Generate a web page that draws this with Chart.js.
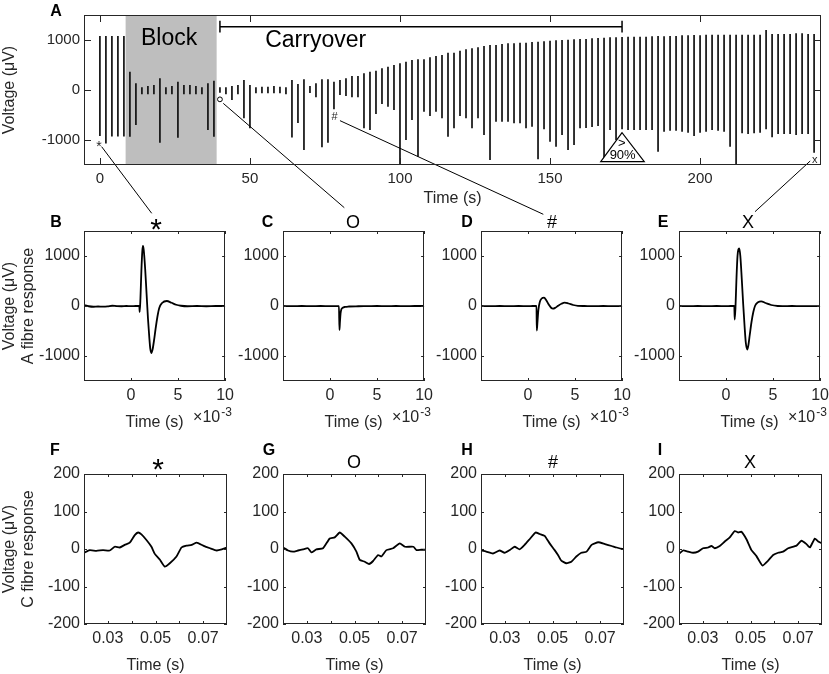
<!DOCTYPE html>
<html>
<head>
<meta charset="utf-8">
<script src="https://cdn.jsdelivr.net/npm/chart.js@4.4.1/dist/chart.umd.min.js"></script>
<style>
  html, body { margin: 0; padding: 0; background: #fff; }
  #fig { position: relative; width: 829px; height: 674px; overflow: hidden;
         font-family: "Liberation Sans", Arial, sans-serif; color: #000; }
  #fig canvas { position: absolute; }
  .lbl { position: absolute; line-height: 1; white-space: nowrap; transform: translate(-50%, -50%); }
  .letter { font-weight: bold; font-size: 16px; }
  .ttl { font-size: 18px; }
</style>
</head>
<body>
<div id="fig"></div>
<script>
// ---- panel A: one stimulus every 2 s, min and max of each evoked response (uV)
const spikeTimes = [
  0, 2, 4, 6, 8, 10, 12, 14, 16, 18, 20, 22, 24, 26, 28, 30, 32, 34, 36, 38,
  40, 42, 44, 46, 48, 50, 52, 54, 56, 58, 60, 62, 64, 66, 68, 70, 72, 74, 76, 78,
  80, 82, 84, 86, 88, 90, 92, 94, 96, 98, 100, 102, 104, 106, 108, 110, 112, 114, 116, 118,
  120, 122, 124, 126, 128, 130, 132, 134, 136, 138, 140, 142, 144, 146, 148, 150, 152, 154, 156, 158,
  160, 162, 164, 166, 168, 170, 172, 174, 176, 178, 180, 182, 184, 186, 188, 190, 192, 194, 196, 198,
  200, 202, 204, 206, 208, 210, 212, 214, 216, 218, 220, 222, 224, 226, 228, 230, 232, 234, 236, 238
];
const spikeHigh = [
  1080, 1080, 1080, 1080, 1080, 367, 133, 53, 80, 100, 233, 53, 80, 167, 100, 100, 80, 53, 133, 187,
  53, 53, 80, 100, 200, 100, 53, 67, 67, 80, 67, 53, 200, 120, 213, 80, 133, 213, 213, 167,
  200, 233, 280, 280, 333, 367, 387, 433, 467, 500, 533, 567, 600, 613, 613, 653, 680, 700, 747, 747,
  787, 813, 833, 853, 880, 900, 900, 920, 933, 933, 947, 947, 960, 967, 973, 987, 993, 1000, 1007, 1013,
  1020, 1020, 1033, 1040, 1047, 1053, 1053, 1060, 1067, 1067, 1067, 1067, 1073, 1080, 1073, 1080, 1080, 1093, 1093, 1100,
  1093, 1107, 1107, 1107, 1107, 1107, 1107, 1107, 1107, 1107, 1107, 1200, 1120, 1120, 1120, 1120, 1133, 1133, 1120, 1120
];
const spikeLow = [
  -920, -1070, -930, -930, -930, -933, -700, -87, -87, -87, -1053, -87, -87, -953, -87, -87, -87, -87, -800, -933,
  -53, -87, -200, -87, -567, -767, -67, -67, -67, -67, -67, -87, -950, -660, -1200, -60, -147, -1147, -1053, -387,
  -100, -120, -147, -147, -767, -800, -480, -280, -333, -400, -1500, -1000, -600, -1333, -433, -520, -433, -567, -933, -767,
  -520, -567, -767, -567, -900, -1400, -633, -633, -633, -667, -667, -767, -733, -1387, -787, -1033, -1133, -900, -1200, -1100,
  -767, -760, -740, -720, -1400, -800, -1000, -787, -800, -800, -800, -800, -800, -1233, -833, -813, -813, -833, -853, -920,
  -853, -833, -800, -813, -833, -1133, -1500, -867, -880, -867, -853, -787, -947, -880, -880, -880, -900, -880, -880, -1253
];
const aTimeTicks = [0, 50, 100, 150, 200];
const aTimeLabels = ['0', '50', '100', '150', '200'];
const voltTicks = [-1000, 0, 1000];
const voltLabels = ['-1000', '0', '1000'];

// ---- panels B-E: A fibre responses (time in ms x 10^-3 s, voltage in uV)
const msTicks = [0, 5, 10];
const msLabels = ['0', '5', '10'];
const bTime = [-5, -4.5, -4, -3.5, -3, -2.5, -2, -1.5, -1, -0.5, 0, 0.5, 0.88, 0.92, 1.0, 1.1, 1.2, 1.27, 1.35, 1.5,
  1.65, 1.8, 1.95, 2.05, 2.16, 2.3, 2.45, 2.6, 2.8, 3.0, 3.3, 3.8, 4.3, 4.8, 5.3, 6, 7, 8, 9, 10];
const bVolt = [20, -5, -15, -10, -12, -8, 5, -3, -5, 0, -2, 0, 0, -120, 150, 700, 1100, 1200, 1120, 750,
  250, -250, -650, -860, -940, -860, -680, -470, -220, -40, 60, 100, 65, 25, 5, -5, 0, -5, 0, 0];
const cTime = [-5, -4, -3, -2, -1, 0, 0.5, 0.95, 1.0, 1.05, 1.12, 1.2, 1.35, 1.6, 2, 3, 4, 5, 6, 7, 8, 9, 10];
const cVolt = [0, -3, 0, -2, 0, -3, -2, -3, -480, -330, -150, -70, -35, -18, -10, -5, -3, 0, -2, 0, -2, 0, 0];
const dTime = [-5, -4, -3, -2, -1, 0, 0.5, 0.9, 0.93, 1.0, 1.1, 1.25, 1.45, 1.7, 1.95, 2.2, 2.45, 2.65, 2.9, 3.2,
  3.55, 3.9, 4.3, 4.8, 5.3, 6, 7, 8, 9, 10];
const dVolt = [0, -2, 0, -3, 0, -2, 0, 0, -490, -330, -80, 80, 150, 168, 110, 30, -35, -53, -35, 5,
  45, 67, 50, 20, 3, 0, -2, 0, -2, 0];
const eTime = [-5, -4, -3, -2, -1, 0, 0.5, 0.88, 0.92, 1.0, 1.1, 1.22, 1.4, 1.52, 1.67, 1.82, 1.97, 2.1, 2.25, 2.38,
  2.52, 2.7, 2.9, 3.1, 3.4, 3.73, 4.2, 4.8, 5.5, 6, 7, 8, 9, 10];
const eVolt = [0, -3, 0, -2, 0, -3, 0, 0, -270, -50, 500, 1000, 1150, 1000, 550, 50, -400, -730, -870, -780,
  -580, -330, -120, 10, 75, 93, 60, 20, 0, -3, 0, -3, -2, -3];

// ---- panels F-I: C fibre responses (time in s, voltage in uV)
const secTicks = [0.03, 0.04, 0.05, 0.06, 0.07];
const secLabels = ['0.03', '', '0.05', '', '0.07'];
const cVoltTicks = [-200, -100, 0, 100, 200];
const cVoltLabels = ['-200', '-100', '0', '100', '200'];
const fTime = [0.02, 0.0224, 0.0252, 0.028, 0.0308, 0.0329, 0.035, 0.0371, 0.0392, 0.0413, 0.0427, 0.0441, 0.0462, 0.0483,
  0.0497, 0.0518, 0.0539, 0.056, 0.0588, 0.0609, 0.063, 0.0652, 0.0673, 0.07, 0.0729, 0.0757, 0.0778, 0.08];
const fVolt = [-10, -3, -5, -3, -4, 6, 4, 11, 17, 37, 44, 39, 24, 6, -13, -28, -47, -38, -20, 4, 9, 11, 17, 9, 2, -4, -1, 4];
const gTime = [0.02, 0.0221, 0.0242, 0.0263, 0.0284, 0.0305, 0.0319, 0.034, 0.0368, 0.0396, 0.0417, 0.0438, 0.0459, 0.0487,
  0.0508, 0.0522, 0.0543, 0.0561, 0.0578, 0.0599, 0.0613, 0.0634, 0.0662, 0.069, 0.0712, 0.0747, 0.076, 0.078, 0.08];
const gVolt = [4, -4, -7, -4, -1, 2, -9, -1, 2, 28, 31, 44, 33, 15, -7, -29, -34, -40, -32, -16, -20, -3, 2, 15, 6, 6, -3, -2, -2];
const hTime = [0.02, 0.0222, 0.025, 0.0278, 0.0299, 0.032, 0.0341, 0.0362, 0.0383, 0.0404, 0.0429, 0.0446, 0.0467, 0.0488,
  0.0509, 0.0523, 0.0537, 0.0558, 0.0579, 0.06, 0.0621, 0.0643, 0.0664, 0.0692, 0.072, 0.0748, 0.0769, 0.0794, 0.08];
const hVolt = [-4, -7, -12, -4, -10, -3, 6, -1, 11, 26, 44, 40, 35, 15, -3, -16, -31, -38, -34, -20, -10, -7, 11, 18, 13, 8, 4, 0, 0];
const iTime = [0.02, 0.0217, 0.0238, 0.0259, 0.028, 0.0301, 0.0322, 0.0336, 0.035, 0.0371, 0.0392, 0.0413, 0.0434, 0.0448,
  0.0462, 0.0483, 0.0504, 0.0525, 0.055, 0.0574, 0.0595, 0.0616, 0.0637, 0.0658, 0.0693, 0.0714, 0.0735, 0.0749, 0.077, 0.0784, 0.08];
const iVolt = [-13, -4, -7, -10, -7, 2, 4, 8, 2, 8, 20, 31, 48, 44, 46, 26, -3, -19, -44, -31, -16, -10, -7, 2, 9, 22, 13, 4, 28, 20, 15];

// annotation spots in panel A (data units)
const blockSpan = [8.57, 38.9];
const carrySpan = [40, 174];
const carryLevel = 1267;
const markStar = [-0.3, -1080], markCircle = [40, -187], markHash = [78.2, -533], markX = [238.2, -1390];
const tri = { apex: [174, -853], left: [166.9, -1433], right: [181.4, -1433] };
// connector lines: start in panel A data units, end in page pixels (just under the panel titles)
const links = [
  { from: [0.57, -1133], to: [151.7, 213.3] },
  { from: [41.1, -267], to: [344.3, 207.7] },
  { from: [80, -613], to: [543.3, 214.3] },
  { from: [236.7, -1420], to: [755, 211.7] }
];

const FONT = '"Liberation Sans", Arial, sans-serif';
const INK = '#262626';
const fig = document.getElementById('fig');

function addCanvas(left, top, w, h) {
  const cv = document.createElement('canvas');
  cv.width = w; cv.height = h;
  cv.style.left = left + 'px'; cv.style.top = top + 'px';
  cv.style.width = w + 'px'; cv.style.height = h + 'px';
  fig.appendChild(cv);
  return cv;
}

function addLabel(text, x, y, cls, extra) {
  const d = document.createElement('div');
  d.className = 'lbl ' + cls;
  d.textContent = text;
  d.style.left = x + 'px'; d.style.top = y + 'px';
  if (extra) Object.assign(d.style, extra);
  fig.appendChild(d);
}

// MATLAB-like box with inward ticks on all four sides
const boxTicks = {
  id: 'boxTicks',
  afterDraw(chart, args, opts) {
    const { ctx, chartArea: a, scales: { x, y } } = chart;
    const L = opts.len || 3;
    ctx.save();
    ctx.strokeStyle = INK;
    ctx.lineWidth = 1;
    ctx.beginPath();
    x.ticks.forEach(t => {
      const px = Math.round(x.getPixelForValue(t.value)) + 0.5;
      ctx.moveTo(px, a.bottom); ctx.lineTo(px, a.bottom - L);
      ctx.moveTo(px, a.top); ctx.lineTo(px, a.top + L);
    });
    y.ticks.forEach(t => {
      const py = Math.round(y.getPixelForValue(t.value)) + 0.5;
      ctx.moveTo(a.left, py); ctx.lineTo(a.left + L, py);
      ctx.moveTo(a.right, py); ctx.lineTo(a.right - L, py);
    });
    ctx.stroke();
    ctx.strokeRect(Math.round(a.left) + 0.5, Math.round(a.top) + 0.5,
      Math.round(a.right - a.left) - 1, Math.round(a.bottom - a.top) - 1);
    ctx.restore();
  }
};

// "x10^-3" exponent under the right end of the ms axes
const timesTen = {
  id: 'timesTen',
  afterDraw(chart, args, opts) {
    if (!opts.show) return;
    const { ctx, chartArea: a } = chart;
    ctx.save();
    ctx.fillStyle = INK;
    ctx.textBaseline = 'alphabetic';
    ctx.font = '16px ' + FONT;
    const x0 = a.right - 32;
    ctx.fillText('\u00d710', x0, a.bottom + 41);
    const w = ctx.measureText('\u00d710').width;
    ctx.font = '12px ' + FONT;
    ctx.fillText('-3', x0 + w + 1, a.bottom + 35);
    ctx.restore();
  }
};

const carryAnnot = {
  id: 'carryAnnot',
  beforeDatasetsDraw(chart) {
    const { ctx, chartArea: a, scales: { x } } = chart;
    const x0 = x.getPixelForValue(blockSpan[0]), x1 = x.getPixelForValue(blockSpan[1]);
    ctx.save();
    ctx.fillStyle = '#bebebe';
    ctx.fillRect(x0, a.top, x1 - x0, a.bottom - a.top);
    ctx.restore();
  },
  afterDatasetsDraw(chart) {
    const { ctx, scales: { x, y } } = chart;
    const P = (t, v) => [x.getPixelForValue(t), y.getPixelForValue(v)];
    ctx.save();
    ctx.fillStyle = '#000';
    ctx.strokeStyle = '#000';
    ctx.textAlign = 'center';
    ctx.textBaseline = 'middle';
    ctx.font = '23px ' + FONT;
    let p = P(23.05, 1025);
    ctx.fillText('Block', p[0], p[1]);
    p = P(71.9, 985);
    ctx.fillText('Carryover', p[0], p[1]);

    // carryover bracket
    const b0 = P(carrySpan[0], carryLevel), b1 = P(carrySpan[1], carryLevel);
    const capUp = y.getPixelForValue(carryLevel + 117), capDn = y.getPixelForValue(carryLevel - 117);
    ctx.lineWidth = 1.5;
    ctx.beginPath();
    ctx.moveTo(b0[0], b0[1]); ctx.lineTo(b1[0], b1[1]);
    ctx.moveTo(b0[0], capUp); ctx.lineTo(b0[0], capDn);
    ctx.moveTo(b1[0], capUp); ctx.lineTo(b1[0], capDn);
    ctx.stroke();

    // markers
    ctx.fillStyle = INK;
    ctx.font = '14px ' + FONT;
    p = P(markStar[0], markStar[1]);
    ctx.fillText('*', p[0], p[1] + 3);
    ctx.font = '11px ' + FONT;
    p = P(markHash[0], markHash[1]);
    ctx.fillText('#', p[0], p[1]);
    p = P(markX[0], markX[1]);
    ctx.fillText('x', p[0], p[1]);
    p = P(markCircle[0], markCircle[1]);
    ctx.lineWidth = 1;
    ctx.beginPath();
    ctx.arc(p[0], p[1], 2.4, 0, Math.PI * 2);
    ctx.stroke();

    // >90% triangle
    const ta = P(tri.apex[0], tri.apex[1]), tl = P(tri.left[0], tri.left[1]), tr = P(tri.right[0], tri.right[1]);
    ctx.beginPath();
    ctx.moveTo(ta[0], ta[1]); ctx.lineTo(tl[0], tl[1]); ctx.lineTo(tr[0], tr[1]); ctx.closePath();
    ctx.fillStyle = '#fff';
    ctx.fill();
    ctx.strokeStyle = '#000';
    ctx.lineWidth = 1.2;
    ctx.stroke();
    ctx.fillStyle = '#000';
    ctx.font = '13px ' + FONT;
    p = P(173.9, -1067);
    ctx.fillText('>', p[0], p[1]);
    p = P(174.2, -1300);
    ctx.fillText('90%', p[0], p[1]);
    ctx.restore();
  },
  afterDraw(chart) {
    const { ctx, scales: { x, y } } = chart;
    const top = chart.canvas.offsetTop, left = chart.canvas.offsetLeft;
    ctx.save();
    ctx.strokeStyle = '#000';
    ctx.lineWidth = 1;
    ctx.beginPath();
    links.forEach(l => {
      ctx.moveTo(x.getPixelForValue(l.from[0]), y.getPixelForValue(l.from[1]));
      ctx.lineTo(l.to[0] - left, l.to[1] - top);
    });
    ctx.stroke();
    ctx.restore();
  }
};

// ---------- panel A
const cvA = addCanvas(0, 0, 829, 220);
new Chart(cvA, {
  type: 'bar',
  data: {
    datasets: [{
      data: spikeTimes.map((t, i) => ({ x: t, y: [spikeLow[i], spikeHigh[i]] })),
      backgroundColor: '#111',
      borderWidth: 0,
      inflateAmount: 0,
      barThickness: 1.7
    }]
  },
  options: {
    responsive: false, animation: false, events: [],
    layout: { padding: { left: 0, top: 15, right: 8, bottom: 12 } },
    plugins: { legend: { display: false }, tooltip: { enabled: false }, boxTicks: { len: 7 } },
    scales: {
      x: {
        type: 'linear', min: -5.3, max: 240.3, offset: false,
        grid: { display: false, drawTicks: false }, border: { display: false },
        ticks: { font: { family: FONT, size: 15 }, color: INK, padding: 5, maxRotation: 0, autoSkip: false,
          callback: (v, i) => aTimeLabels[i] },
        afterBuildTicks: s => { s.ticks = aTimeTicks.map(v => ({ value: v })); },
        afterFit: s => { s.height = 43; },
        title: { display: true, text: 'Time (s)', font: { family: FONT, size: 16 }, color: INK, padding: 0 }
      },
      y: {
        min: -1500, max: 1500,
        grid: { display: false, drawTicks: false }, border: { display: false },
        ticks: { font: { family: FONT, size: 15 }, color: INK, padding: 4, autoSkip: false,
          callback: (v, i) => voltLabels[i] },
        afterBuildTicks: s => { s.ticks = voltTicks.map(v => ({ value: v })); },
        afterFit: s => { s.width = 84; },
        title: { display: true, text: 'Voltage (\u03bcV)', font: { family: FONT, size: 16 }, color: INK, padding: 0 }
      }
    }
  },
  plugins: [carryAnnot, boxTicks]
});

// ---------- small panels
const BOX_W = 143, BOX_H = 150, TOP_PAD = 31, X_H = 51, RIGHT_PAD = 12;
const colLefts = [84, 283, 481, 679];

function panel(p) {
  const yw = p.yTitle ? 84 : 62;
  const cv = addCanvas(p.left - yw, p.top - TOP_PAD, yw + BOX_W + RIGHT_PAD, TOP_PAD + BOX_H + X_H);
  new Chart(cv, {
    type: 'line',
    data: {
      datasets: [{
        data: p.xs.map((v, i) => ({ x: v, y: p.ys[i] })),
        borderColor: '#000', borderWidth: 1.8, pointRadius: 0, fill: false,
        cubicInterpolationMode: p.smooth ? 'monotone' : 'default',
        tension: p.smooth ? 0.4 : 0.15
      }]
    },
    options: {
      responsive: false, animation: false, events: [],
      layout: { padding: { left: 0, top: TOP_PAD, right: RIGHT_PAD, bottom: 0 } },
      plugins: { legend: { display: false }, tooltip: { enabled: false },
        boxTicks: { len: 3 }, timesTen: { show: p.sci } },
      scales: {
        x: {
          type: 'linear', min: p.xMin, max: p.xMax,
          grid: { display: false, drawTicks: false }, border: { display: false },
          ticks: { font: { family: FONT, size: 16 }, color: INK, padding: 5, maxRotation: 0, autoSkip: false,
            callback: (v, i) => p.xLabels[i] },
          afterBuildTicks: s => { s.ticks = p.xTicks.map(v => ({ value: v })); },
          afterFit: s => { s.height = X_H; },
          title: { display: true, text: 'Time (s)', font: { family: FONT, size: 16 }, color: INK, padding: 0 }
        },
        y: {
          min: p.yMin, max: p.yMax,
          grid: { display: false, drawTicks: false }, border: { display: false },
          ticks: { font: { family: FONT, size: 16 }, color: INK, padding: 4, autoSkip: false,
            callback: (v, i) => p.yLabels[i] },
          afterBuildTicks: s => { s.ticks = p.yTicks.map(v => ({ value: v })); },
          afterFit: s => { s.width = yw; },
          title: { display: !!p.yTitle, text: p.yTitle || '', font: { family: FONT, size: 16 }, color: INK, padding: 0 }
        }
      }
    },
    plugins: [boxTicks, timesTen]
  });
}

const aRow = [[bTime, bVolt], [cTime, cVolt], [dTime, dVolt], [eTime, eVolt]];
aRow.forEach((d, k) => panel({
  left: colLefts[k], top: 231, xs: d[0], ys: d[1], smooth: true, sci: true,
  xMin: -5, xMax: 10, xTicks: msTicks, xLabels: msLabels,
  yMin: -1500, yMax: 1500, yTicks: voltTicks, yLabels: voltLabels,
  yTitle: k === 0 ? ['Voltage (\u03bcV)', 'A fibre response'] : null
}));

const cRow = [[fTime, fVolt], [gTime, gVolt], [hTime, hVolt], [iTime, iVolt]];
cRow.forEach((d, k) => panel({
  left: colLefts[k], top: 474, xs: d[0], ys: d[1], smooth: false, sci: false,
  xMin: 0.02, xMax: 0.08, xTicks: secTicks, xLabels: secLabels,
  yMin: -200, yMax: 200, yTicks: cVoltTicks, yLabels: cVoltLabels,
  yTitle: k === 0 ? ['Voltage (\u03bcV)', 'C fibre response'] : null
}));

// panel letters and titles
[['A', 56, 11], ['B', 56, 222], ['C', 267.5, 222], ['D', 467, 222], ['E', 663, 222],
 ['F', 55, 450], ['G', 269, 450], ['H', 467, 450], ['I', 660, 450]]
  .forEach(l => addLabel(l[0], l[1], l[2], 'letter'));

const titleMarks = ['*', 'O', '#', 'X'];
const titleX2 = [156, 353, 552, 748], titleX3 = [158, 354, 553, 750];
titleMarks.forEach((m, k) => {
  const star = m === '*';
  const extra = star ? { fontSize: '30px' } : null;
  addLabel(m, titleX2[k], 222 + (star ? 7 : 0), 'ttl', extra);
  addLabel(m, titleX3[k], 462 + (star ? 7 : 0), 'ttl', extra);
});
</script>
</body>
</html>
